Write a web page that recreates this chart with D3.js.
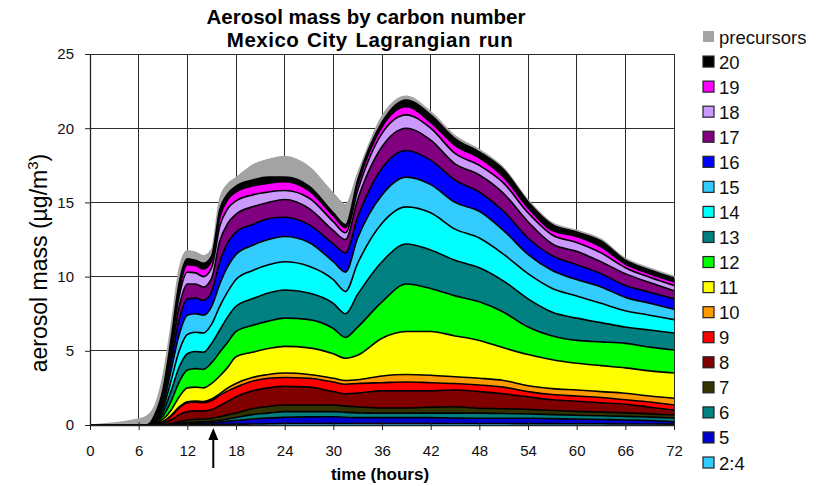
<!DOCTYPE html>
<html>
<head>
<meta charset="utf-8">
<script src="https://cdn.jsdelivr.net/npm/d3@7"></script>
<style>
  html, body { margin: 0; padding: 0; background: #fff; }
  svg { display: block; font-family: "Liberation Sans", Arial, sans-serif; }
</style>
</head>
<body>
<svg id="chart" width="833" height="486"></svg>
<script>
// Model time axis (hours since start of the Lagrangian run)
const hours = [0, 6, 7, 8, 9, 10, 11, 12, 13, 14, 15, 16, 17, 18, 20, 22, 24, 27, 30, 31.5, 33, 36, 39, 42, 45, 48, 51, 54, 57, 60, 63, 66, 69, 72];

// Aerosol mass (ug/m3) contributed by each carbon-number group
const c2_4 = [0,0,0,0,0,.01,.02,.03,.03,.03,.04,.04,.05,.05,.07,.08,.10,.10,.10,.10,.10,.10,.10,.10,.10,.10,.10,.09,.09,.08,.08,.07,.07,.06];
const c5   = [0,0,0,0,.01,.02,.05,.07,.09,.10,.11,.16,.20,.25,.33,.40,.42,.45,.46,.42,.40,.40,.40,.40,.37,.35,.35,.36,.34,.32,.29,.27,.23,.16];
const c6   = [0,0,0,0,.01,.02,.05,.07,.08,.09,.10,.10,.15,.20,.30,.32,.38,.35,.34,.33,.32,.30,.30,.30,.33,.35,.32,.29,.27,.26,.25,.24,.23,.25];
const c7   = [0,0,0,.02,.02,.05,.10,.17,.18,.18,.20,.25,.30,.30,.40,.45,.45,.45,.45,.42,.40,.35,.35,.40,.43,.32,.33,.31,.28,.26,.25,.24,.22,.20];
const c8   = [0,0,0,.03,.08,.25,.48,.56,.57,.55,.60,.75,.90,1.1,1.2,1.25,1.25,1.2,.90,.83,.93,1.15,1.15,1.1,1.13,1.13,1.0,.85,.72,.68,.63,.58,.45,.33];
const c9   = [0,0,0,.03,.10,.25,.45,.60,.60,.55,.60,.70,.70,.65,.65,.65,.60,.60,.65,.65,.65,.55,.60,.55,.44,.45,.45,.35,.35,.35,.35,.30,.35,.35];
const c10  = [0,0,0,.01,.02,.05,.07,.07,.07,.08,.10,.10,.20,.25,.25,.25,.30,.25,.25,.25,.25,.45,.50,.50,.45,.45,.45,.40,.40,.41,.40,.44,.40,.45];
const c11  = [0,0,0,.03,.16,.35,.68,.93,.93,.92,1.05,1.2,1.4,1.8,1.7,1.75,1.8,1.8,1.65,1.5,1.65,2.55,2.9,2.95,2.75,2.55,2.2,2.1,1.95,1.8,1.75,1.71,1.7,1.7];
const c12  = [0,0,0,.04,.20,.60,1.0,1.2,1.25,1.25,1.4,1.6,1.7,1.7,1.8,1.85,1.9,1.9,1.7,1.4,1.9,2.45,3.2,2.9,2.7,2.6,2.4,1.85,1.6,1.54,1.6,1.65,1.6,1.55];
const c13  = [0,0,0,.04,.25,.70,1.0,1.1,1.15,1.15,1.3,1.5,1.7,1.7,1.8,1.9,1.9,1.8,1.7,1.6,2.2,2.7,2.7,2.6,2.4,2.3,2.1,1.9,1.6,1.5,1.3,1.1,1.15,1.15];
const c14  = [0,0,0,.05,.25,.70,1.1,1.3,1.3,1.3,1.3,1.6,1.7,1.8,1.9,1.9,1.9,1.8,1.6,1.5,2.1,2.6,2.5,2.5,2.1,2.0,1.8,1.7,1.6,1.5,1.3,1.1,1.0,.90];
const c15  = [0,0,0,.05,.25,.70,1.1,1.3,1.25,1.2,1.2,1.5,1.7,1.7,1.7,1.7,1.7,1.6,1.2,1.3,1.7,1.9,2.0,1.9,1.8,1.8,1.6,1.3,1.2,1.1,1.1,.90,.80,.70];
const c16  = [0,0,0,.05,.25,.60,1.0,1.1,1.05,1.0,1.0,1.5,1.6,1.5,1.4,1.4,1.3,1.2,1.2,1.3,1.4,1.8,1.8,1.65,1.5,1.3,1.3,1.1,1.0,1.0,.90,.80,.75,.70];
const c17  = [0,0,0,.05,.25,.50,.90,1.0,.95,.90,.90,1.4,1.3,1.2,1.2,1.1,1.2,1.1,.90,.90,1.2,1.45,1.5,1.35,1.1,1.15,1.2,1.1,.80,.90,.80,.80,.65,.55];
const c18  = [0,0,0,.05,.15,.40,.70,.80,.75,.70,.70,1.0,1.0,.90,.80,.70,.60,.70,.60,.45,.60,.90,.90,.80,.70,.65,.70,.60,.60,.60,.60,.40,.35,.35];
const c19  = [0,0,0,.05,.10,.25,.40,.50,.50,.50,.45,.60,.60,.60,.60,.60,.60,.50,.40,.35,.40,.45,.55,.40,.55,.50,.40,.35,.30,.40,.40,.25,.25,.25];
const c20  = [0,0,0,.20,.30,.35,.50,.40,.35,.40,.35,.50,.40,.40,.40,.40,.30,.30,.20,.20,.30,.30,.45,.50,.45,.40,.50,.40,.40,.30,.40,.25,.25,.25];
const precursors = [0,.4,.6,.6,.9,.9,.9,.55,.55,.5,.45,.75,.65,.55,1.0,1.2,1.4,1.3,1.3,1.35,.45,.4,.25,.2,.18,.15,.12,.12,.12,.12,.12,.12,.12,.12];

// Legend / stacking order, bottom of the stack first
const seriesNames  = ["2:4", "5", "6", "7", "8", "9", "10", "11", "12", "13", "14", "15", "16", "17", "18", "19", "20", "precursors"];
const seriesValues = [c2_4, c5, c6, c7, c8, c9, c10, c11, c12, c13, c14, c15, c16, c17, c18, c19, c20, precursors];
const seriesColors = ["#33CCFF", "#0000CC", "#008080", "#333300", "#800000", "#FF0000", "#FF9900", "#FFFF00",
                      "#00FF00", "#008080", "#00FFFF", "#33CCFF", "#0000FF", "#800080", "#CC99FF", "#FF00FF",
                      "#000000", "#A3A3A3"];

const xTicks = [0, 6, 12, 18, 24, 30, 36, 42, 48, 54, 60, 66, 72];
const yTicks = [0, 5, 10, 15, 20, 25];
const titleLines = ["Aerosol mass by carbon number", "Mexico City Lagrangian run"];
const arrowHour = 15.2;

const table = hours.map((h, i) => {
  const row = { hour: h };
  seriesNames.forEach((n, k) => { row[n] = seriesValues[k][i]; });
  return row;
});

const svg = d3.select("#chart");
const x = d3.scaleLinear().domain([0, 72]).range([90, 674]);
const y = d3.scaleLinear().domain([0, 25]).range([425, 54]);

// grid
const grid = svg.append("g").attr("stroke", "#2b2b2b").attr("stroke-width", 1).attr("shape-rendering", "crispEdges");
xTicks.slice(1).forEach(t => grid.append("line").attr("x1", x(t)).attr("x2", x(t)).attr("y1", y(25)).attr("y2", y(0)));
yTicks.slice(1).forEach(t => grid.append("line").attr("x1", x(0)).attr("x2", x(72)).attr("y1", y(t)).attr("y2", y(t)));

// stacked areas
const stack = d3.stack().keys(seriesNames);
const layers = stack(table);
const curve = d3.curveMonotoneX;
const area = d3.area().x(d => x(d.data.hour)).y0(d => y(d[0])).y1(d => y(d[1])).curve(curve);
const topLine = d3.line().x(d => x(d.data.hour)).y(d => y(d[1])).curve(curve);

const defs = svg.append("defs");
defs.append("filter").attr("id", "soft").attr("x", "-5%").attr("y", "-5%").attr("width", "110%").attr("height", "110%")
  .append("feGaussianBlur").attr("stdDeviation", 0.6);

const plot = svg.append("g");
// precursors (top of the stack) first, with a slightly soft edge
plot.selectAll("path.area").data(layers.slice().reverse()).join("path")
  .attr("class", "area")
  .attr("d", area)
  .attr("fill", (d) => seriesColors[d.index])
  .attr("stroke", d => d.key === "precursors" ? seriesColors[d.index] : "none")
  .attr("stroke-width", 1.5)
  .attr("filter", d => d.key === "precursors" ? "url(#soft)" : null);
// black outline along the top of every carbon-number layer
plot.selectAll("path.edge").data(layers.filter(l => l.key !== "precursors")).join("path")
  .attr("class", "edge")
  .attr("d", topLine)
  .attr("fill", "none")
  .attr("stroke", "#000")
  .attr("stroke-width", 1.6)
  .attr("stroke-linejoin", "round");

// axes
const xAxis = d3.axisBottom(x).tickValues(xTicks).tickSize(5).tickPadding(15).tickSizeOuter(0);
const gx = svg.append("g").attr("transform", `translate(0,${y(0)})`).call(xAxis);
gx.select(".domain").attr("stroke", "#222").attr("stroke-width", 1.3);
gx.selectAll(".tick line").attr("stroke", "#222").attr("y1", -3);
gx.selectAll("text").attr("font-size", 15).attr("fill", "#111");

const yAxis = d3.axisLeft(y).tickValues(yTicks).tickSize(5).tickPadding(11).tickSizeOuter(0);
const gy = svg.append("g").attr("transform", `translate(${x(0)},0)`).call(yAxis);
gy.select(".domain").attr("stroke", "#222").attr("stroke-width", 1.3);
gy.selectAll(".tick line").attr("stroke", "#222");
gy.selectAll("text").attr("font-size", 15).attr("fill", "#111");

// titles
svg.append("text").attr("x", 366).attr("y", 24).attr("text-anchor", "middle")
  .attr("font-size", 20.5).attr("font-weight", "bold").text(titleLines[0]);
svg.append("text").attr("x", 370).attr("y", 47).attr("text-anchor", "middle")
  .attr("font-size", 20.5).attr("font-weight", "bold")
  .attr("letter-spacing", 0.5).attr("word-spacing", 1.5).text(titleLines[1]);
svg.append("text").attr("x", 380).attr("y", 480).attr("text-anchor", "middle")
  .attr("font-size", 17).attr("font-weight", "bold").text("time (hours)");
const yt = svg.append("text").attr("transform", "translate(47,263) rotate(-90)").attr("text-anchor", "middle")
  .attr("font-size", 23);
yt.append("tspan").text("aerosol mass (\u00b5g/m");
yt.append("tspan").attr("font-size", 15).attr("dy", -9).text("3");
yt.append("tspan").attr("dy", 9).text(")");

// arrow marking the hour of interest
const ax = x(arrowHour);
svg.append("line").attr("x1", ax).attr("x2", ax).attr("y1", 468).attr("y2", 438).attr("stroke", "#000").attr("stroke-width", 2);
svg.append("path").attr("d", `M${ax - 5},440 L${ax},428 L${ax + 5},440 Z`).attr("fill", "#000");

// legend, top entry first
const legend = svg.append("g").attr("transform", "translate(703,37)");
seriesNames.slice().reverse().forEach((n, i) => {
  const k = seriesNames.length - 1 - i;
  const g = legend.append("g").attr("transform", `translate(0,${i * 25.06})`);
  g.append("rect").attr("x", 0).attr("y", -6).attr("width", 11).attr("height", 11)
    .attr("fill", seriesColors[k])
    .attr("stroke", n === "precursors" ? "none" : "#222").attr("stroke-width", 1.2);
  g.append("text").attr("x", 16).attr("y", 6.5).attr("font-size", 18.5).attr("fill", "#111").text(n);
});
</script>
</body>
</html>
